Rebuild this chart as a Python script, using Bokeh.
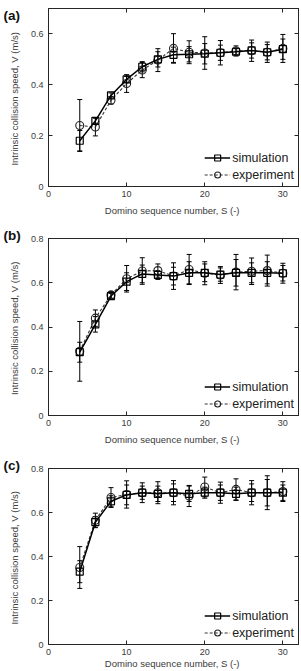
from bokeh.plotting import figure
from bokeh.models import (ColumnDataSource, Whisker, TeeHead, Legend, LegendItem,
                          LinearAxis, FixedTicker, Range1d)
from bokeh.layouts import column
from bokeh.embed import file_html
from bokeh.resources import INLINE

S = [4, 6, 8, 10, 12, 14, 16, 18, 20, 22, 24, 26, 28, 30]

sim_a = [0.180, 0.258, 0.358, 0.421, 0.471, 0.500, 0.518, 0.520, 0.522, 0.526, 0.530, 0.535, 0.528, 0.540]
exp_a = [0.240, 0.234, 0.339, 0.405, 0.458, 0.497, 0.543, 0.528, 0.525, 0.526, 0.533, 0.534, 0.528, 0.543]
sim_err_a = [0.040, 0.012, 0.010, 0.012, 0.020, 0.030, 0.030, 0.030, 0.040, 0.030, 0.012, 0.030, 0.030, 0.040]
exp_err_a = [0.102, 0.035, 0.015, 0.035, 0.030, 0.045, 0.058, 0.045, 0.064, 0.048, 0.020, 0.042, 0.040, 0.055]

sim_b = [0.286, 0.412, 0.540, 0.605, 0.640, 0.635, 0.630, 0.645, 0.645, 0.637, 0.645, 0.645, 0.645, 0.643]
exp_b = [0.290, 0.440, 0.545, 0.618, 0.653, 0.655, 0.630, 0.660, 0.643, 0.635, 0.648, 0.652, 0.655, 0.643]
sim_err_b = [0.045, 0.035, 0.012, 0.040, 0.040, 0.020, 0.040, 0.050, 0.040, 0.030, 0.060, 0.045, 0.050, 0.035]
exp_err_b = [0.135, 0.037, 0.015, 0.060, 0.060, 0.030, 0.060, 0.068, 0.052, 0.038, 0.080, 0.060, 0.070, 0.045]

sim_c = [0.331, 0.556, 0.651, 0.680, 0.690, 0.685, 0.690, 0.685, 0.690, 0.690, 0.685, 0.690, 0.690, 0.690]
exp_c = [0.350, 0.565, 0.668, 0.682, 0.690, 0.690, 0.690, 0.675, 0.716, 0.690, 0.705, 0.690, 0.690, 0.695]
sim_err_c = [0.050, 0.025, 0.025, 0.045, 0.030, 0.035, 0.040, 0.035, 0.025, 0.035, 0.030, 0.040, 0.060, 0.035]
exp_err_c = [0.095, 0.032, 0.045, 0.062, 0.045, 0.050, 0.055, 0.048, 0.045, 0.048, 0.048, 0.055, 0.077, 0.045]

x_ticks = [0, 10, 20, 30]
y_ticks_a = [0, 0.2, 0.4, 0.6]
y_ticks_bc = [0, 0.2, 0.4, 0.6, 0.8]
panel_labels = ["(a)", "(b)", "(c)"]
x_title = "Domino sequence number,  S (-)"
y_title = "Intrinsic collision speed,  V (m/s)"
legend_names = ["simulation", "experiment"]

FONT = "Liberation Sans"
TXT = "#3a3a3a"
AX = "#262626"


def fmt(v):
    return "0" if v == 0 else ("%g" % v)


def panel(lbl, sim, sim_err, exp, exp_err, ymax, yticks, height, top, bottom, xl_standoff, lbl_standoff):
    p = figure(width=301, height=height, output_backend="svg", toolbar_location=None,
               x_range=Range1d(0, 32), y_range=Range1d(0, ymax),
               min_border_left=48, min_border_right=3, min_border_top=top, min_border_bottom=bottom,
               x_axis_label=x_title, y_axis_label=y_title)
    p.grid.visible = False
    p.outline_line_color = AX
    p.outline_line_width = 1
    p.background_fill_color = "white"
    p.border_fill_color = "white"

    # panel letter as the figure title, pulled to the left of the frame
    p.title.text = lbl
    p.title.align = "left"
    p.title.offset = -45
    p.title.vertical_align = "bottom"
    p.title.standoff = lbl_standoff
    p.title.text_font = FONT
    p.title.text_font_size = "13.5px"
    p.title.text_font_style = "bold"
    p.title.text_color = "#111111"

    for ax in p.xaxis:
        ax.ticker = FixedTicker(ticks=x_ticks)
        ax.major_label_overrides = {t: fmt(t) for t in x_ticks}
        ax.major_label_standoff = 4
        ax.axis_label_standoff = xl_standoff
    for ax in p.yaxis:
        ax.ticker = FixedTicker(ticks=yticks)
        ax.major_label_overrides = {t: fmt(t) for t in yticks}
        ax.major_label_standoff = 5
        ax.axis_label_standoff = 8
    for ax in p.axis:
        ax.major_tick_in = 4
        ax.major_tick_out = 0
        ax.minor_tick_line_color = None
        ax.axis_line_color = AX
        ax.major_tick_line_color = AX
        ax.major_label_text_font = FONT
        ax.major_label_text_font_size = "9px"
        ax.major_label_text_color = TXT
        ax.axis_label_text_font = FONT
        ax.axis_label_text_font_size = "9.5px"
        ax.axis_label_text_font_style = "normal"
        ax.axis_label_text_color = TXT

    top_ax = LinearAxis(ticker=FixedTicker(ticks=x_ticks), major_label_text_font_size="0px",
                        major_label_text_color=None, major_label_standoff=0,
                        major_tick_in=4, major_tick_out=0,
                        minor_tick_line_color=None, axis_line_color=AX, major_tick_line_color=AX)
    right_ax = LinearAxis(ticker=FixedTicker(ticks=yticks), major_label_text_font_size="0px",
                          major_label_text_color=None, major_label_standoff=0,
                          major_tick_in=4, major_tick_out=0,
                          minor_tick_line_color=None, axis_line_color=AX, major_tick_line_color=AX)
    p.add_layout(top_ax, "above")
    p.add_layout(right_ax, "right")

    src = ColumnDataSource(dict(
        x=S, sim=sim, exp=exp,
        sim_lo=[v - e for v, e in zip(sim, sim_err)], sim_hi=[v + e for v, e in zip(sim, sim_err)],
        exp_lo=[v - e for v, e in zip(exp, exp_err)], exp_hi=[v + e for v, e in zip(exp, exp_err)],
    ))

    for lo, hi in (("exp_lo", "exp_hi"), ("sim_lo", "sim_hi")):
        w = Whisker(source=src, base="x", lower=lo, upper=hi, line_color="black", line_width=1,
                    upper_head=TeeHead(size=5, line_color="black", line_width=1),
                    lower_head=TeeHead(size=5, line_color="black", line_width=1))
        p.add_layout(w)

    l_exp = p.line("x", "exp", source=src, line_color="#333333", line_width=1.1, line_dash="3 2")
    m_exp = p.scatter("x", "exp", source=src, marker="circle", size=8, line_color="#222222",
                      line_width=1.1, fill_color=None)
    l_sim = p.line("x", "sim", source=src, line_color="black", line_width=1.5)
    m_sim = p.scatter("x", "sim", source=src, marker="square", size=7, line_color="black",
                      line_width=1.2, fill_color=None)

    leg = Legend(items=[LegendItem(label=legend_names[0], renderers=[l_sim, m_sim]),
                        LegendItem(label=legend_names[1], renderers=[l_exp, m_exp])],
                 location="bottom_right", border_line_color=None, background_fill_alpha=0,
                 label_text_font=FONT, label_text_font_size="12.5px", label_text_color="#222222",
                 glyph_width=26, glyph_height=15, label_height=15, label_standoff=2,
                 spacing=2, padding=1, margin=4)
    p.add_layout(leg)
    return p


pa = panel(panel_labels[0], sim_a, sim_err_a, exp_a, exp_err_a, 0.7, y_ticks_a, 225, 8, 39, 5, -29.5)
pb = panel(panel_labels[1], sim_b, sim_err_b, exp_b, exp_err_b, 0.8, y_ticks_bc, 225, 13, 35, 5, -9)
pc = panel(panel_labels[2], sim_c, sim_err_c, exp_c, exp_err_c, 0.8, y_ticks_bc, 221, 18, 26, 0, -8)

layout = column(pa, pb, pc, spacing=0)
open("out.html", "w").write(file_html(layout, INLINE))
